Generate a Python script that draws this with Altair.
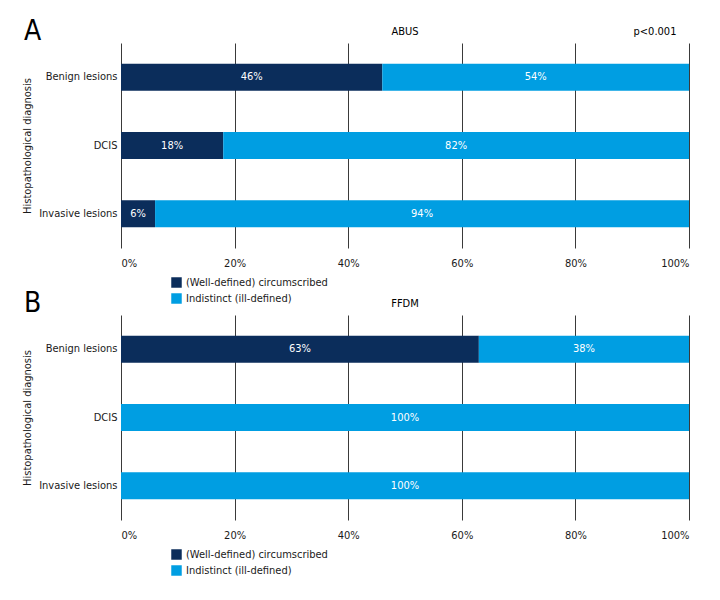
import altair as alt
import pandas as pd

diagnoses = ["Benign lesions", "DCIS", "Invasive lesions"]
categories = ["(Well-defined) circumscribed", "Indistinct (ill-defined)"]
abus_circumscribed = [46, 18, 6]
abus_indistinct = [54, 82, 94]
ffdm_circumscribed = [63, 0, 0]
ffdm_indistinct = [38, 100, 100]
x_ticks = [0, 20, 40, 60, 80, 100]
colors = ["#0b2d5b", "#009ee2"]

FONT = "'DejaVu Sans Condensed', 'DejaVu Sans', sans-serif"
FS = 11
W, H = 568, 205


def make_df(circ, ind):
    rows = []
    for d, c, i in zip(diagnoses, circ, ind):
        rows.append({"diagnosis": d, "category": categories[0], "order": 0, "value": c})
        rows.append({"diagnosis": d, "category": categories[1], "order": 1, "value": i})
    return pd.DataFrame(rows)


def note(text, x, y, size, align):
    return alt.Chart(pd.DataFrame({"t": [text]})).mark_text(
        fontSize=size, align=align, baseline="alphabetic", color="black"
    ).encode(x=alt.value(x), y=alt.value(y), text="t:N")


def panel(df, title, letter, pval=None):
    base = alt.Chart(df).transform_stack(
        stack="value", groupby=["diagnosis"], sort=[alt.SortField("order")], as_=["x0", "x1"]
    ).transform_calculate(
        mid="(datum.x0 + min(datum.x1, 100)) / 2",
        label="datum.value + '%'",
    )
    y = alt.Y(
        "diagnosis:N",
        sort=diagnoses,
        scale=alt.Scale(paddingInner=0, paddingOuter=0),
        axis=alt.Axis(
            title="Histopathological diagnosis",
            domain=False,
            ticks=False,
            labelPadding=4,
            labelFontSize=FS,
            titleFontSize=FS,
            titleFontWeight="normal",
            titleAngle=-90,
            titleX=-94,
            titleY=H / 2,
            titleAlign="center",
            titleBaseline="middle",
        ),
    )
    x = alt.X(
        "x0:Q",
        scale=alt.Scale(domain=[0, 100], nice=False),
        axis=alt.Axis(
            values=x_ticks,
            labelExpr="datum.value + '%'",
            grid=True,
            gridColor="#3a3a3a",
            gridWidth=1,
            domain=False,
            ticks=False,
            title=None,
            labelPadding=9,
            labelFontSize=FS,
        ),
    )
    bars = base.mark_bar(size=27, clip=True).encode(
        x=x,
        x2="x1:Q",
        y=y,
        color=alt.Color(
            "category:N",
            scale=alt.Scale(domain=categories, range=colors),
            legend=alt.Legend(
                title=None,
                orient="none",
                legendX=50,
                legendY=234,
                symbolType="square",
                symbolSize=110,
                symbolStrokeWidth=0,
                labelFontSize=FS,
                rowPadding=4,
                labelOffset=4,
                labelFont=FONT,
                labelColor="#1a1a1a",
            ),
        ),
        order=alt.Order("order:Q"),
    )
    texts = base.transform_filter("datum.value > 0").mark_text(
        color="white", fontSize=FS
    ).encode(x="mid:Q", y=alt.Y("diagnosis:N", sort=diagnoses), text="label:N")
    layers = [bars, texts, note(letter, -97, -3, 28, "left"), note(title, W / 2, -8, FS, "center")]
    if pval:
        layers.append(note(pval, 534, -8, FS, "center"))
    return alt.layer(*layers).properties(width=W, height=H)


chart_a = panel(make_df(abus_circumscribed, abus_indistinct), "ABUS", "A", "p<0.001")
chart_b = panel(make_df(ffdm_circumscribed, ffdm_indistinct), "FFDM", "B")

chart = (
    alt.vconcat(chart_a, chart_b, spacing=67, bounds="flush")
    .resolve_scale(color="independent")
    .properties(padding={"left": 12, "top": 10, "right": 5, "bottom": 5})
    .configure(font=FONT)
    .configure_view(stroke=None)
    .configure_axis(labelColor="#1a1a1a", titleColor="#1a1a1a", labelFont=FONT, titleFont=FONT)
    .configure_text(font=FONT)
)

chart.save("out.html", embed_options={"renderer": "svg", "actions": False})
